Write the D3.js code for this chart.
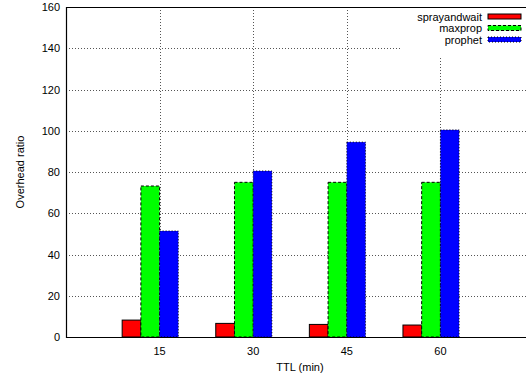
<!DOCTYPE html>
<meta charset="utf-8">
<style>
body { margin: 0; background: #fff; }
text { font: 11px "Liberation Sans", Arial, sans-serif; fill: #000; }
</style>
<body>
<svg id="chart" width="526" height="378"></svg>
<script src="https://cdn.jsdelivr.net/npm/d3@7"></script>
<script>

// values
var ttl = ["15", "30", "45", "60"];
var sprayandwait = [8.2, 6.6, 6.1, 5.8];
var maxprop = [73.2, 75.0, 75.0, 75.0];
var prophet = [51.4, 80.5, 94.5, 100.4];
var yTicks = [0, 20, 40, 60, 80, 100, 120, 140, 160];

var series = [
    {name: "sprayandwait", values: sprayandwait, fill: "#ff0000", dash: null},
    {name: "maxprop", values: maxprop, fill: "#00ff00", dash: "3,2"},
    {name: "prophet", values: prophet, fill: "#0000ff", dash: "1,2"}
];

var svg = d3.select("#chart");

// plot box (right side runs past the picture, as in the original)
var plotL = 66, plotT = 7, plotB = 337, plotR = 534;

// cluster index on x, like gnuplot histograms (first cluster at 0)
var x = d3.scaleLinear().domain([-1, 4]).range([plotL, plotR]);
var y = d3.scaleLinear().domain([0, 160]).range([plotB, plotT]);
var barW = 0.2;

// grid
var grid = svg.append("g")
        .attr("stroke", "#555")
        .attr("stroke-width", 1)
        .attr("stroke-dasharray", "1,2");

grid.selectAll(".hg")
        .data(yTicks.slice(1, -1))
        .enter().append("line")
        .attr("x1", plotL).attr("x2", 526)
        .attr("y1", function(d) { return Math.round(y(d)) + 0.5; })
        .attr("y2", function(d) { return Math.round(y(d)) + 0.5; });

grid.selectAll(".vg")
        .data(ttl)
        .enter().append("line")
        .attr("x1", function(d, i) { return Math.round(x(i)) + 0.5; })
        .attr("x2", function(d, i) { return Math.round(x(i)) + 0.5; })
        .attr("y1", plotT).attr("y2", plotB);

// key area hides the grid
svg.append("rect")
        .attr("x", 402).attr("y", plotT + 1)
        .attr("width", 130).attr("height", 48)
        .attr("fill", "#fff");

// bars
series.forEach(function(s, k) {
    svg.append("g").selectAll("rect")
            .data(s.values)
            .enter().append("rect")
            .attr("x", function(d, i) { return x(i + (k - 2) * barW); })
            .attr("width", x(barW) - x(0))
            .attr("y", function(d) { return y(d); })
            .attr("height", function(d) { return y(0) - y(d); })
            .attr("fill", s.fill)
            .attr("stroke", "#000")
            .attr("stroke-width", 1)
            .attr("stroke-dasharray", s.dash);
});

// border
svg.append("path")
        .attr("d", "M526," + (plotT + 0.5) + "H" + (plotL + 0.5) + "V" + (plotB + 0.5) + "H526")
        .attr("fill", "none")
        .attr("stroke", "#000")
        .attr("stroke-width", 1.2);

// y tick labels
svg.append("g").selectAll("text")
        .data(yTicks)
        .enter().append("text")
        .attr("x", 60)
        .attr("y", function(d) { return y(d) + 4; })
        .attr("text-anchor", "end")
        .text(function(d) { return d; });

// x tick labels
svg.append("g").selectAll("text")
        .data(ttl)
        .enter().append("text")
        .attr("x", function(d, i) { return x(i); })
        .attr("y", 355)
        .attr("text-anchor", "middle")
        .text(function(d) { return d; });

svg.append("text")
        .attr("x", 300).attr("y", 371)
        .attr("text-anchor", "middle")
        .text("TTL (min)");

svg.append("text")
        .attr("transform", "translate(24,172) rotate(-90)")
        .attr("text-anchor", "middle")
        .text("Overhead ratio");

// key
var key = svg.append("g").selectAll("g")
        .data(series)
        .enter().append("g")
        .attr("transform", function(d, i) { return "translate(0," + (16.5 + i * 11.5) + ")"; });

key.append("text")
        .attr("x", 482).attr("y", 4)
        .attr("text-anchor", "end")
        .text(function(d) { return d.name; });

key.append("rect")
        .attr("x", 488).attr("y", -2.5)
        .attr("width", 33).attr("height", 5)
        .attr("fill", function(d) { return d.fill; })
        .attr("stroke", "#000")
        .attr("stroke-dasharray", function(d) { return d.dash; });

</script>
</body>
